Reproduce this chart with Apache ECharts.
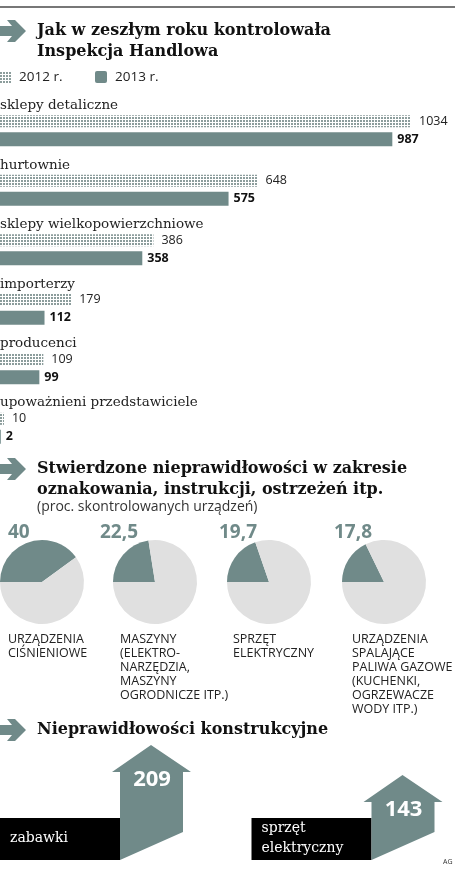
<!DOCTYPE html>
<html><head><meta charset="utf-8">
<script src="https://cdn.jsdelivr.net/npm/echarts@6/dist/echarts.min.js"></script>
<style>html,body{margin:0;padding:0;background:#fff}#c{width:458px;height:876px}</style>
</head><body><div id="c"></div>
<script>
var categories = ['sklepy detaliczne','hurtownie','sklepy wielkopowierzchniowe','importerzy','producenci','upoważnieni przedstawiciele'];
var values2012 = [1034, 648, 386, 179, 109, 10];
var values2013 = [987, 575, 358, 112, 99, 2];
var pieNames = ['URZĄDZENIA\nCIŚNIENIOWE','MASZYNY\n(ELEKTRO-\nNARZĘDZIA,\nMASZYNY\nOGRODNICZE ITP.)','SPRZĘT\nELEKTRYCZNY','URZĄDZENIA\nSPALAJĄCE\nPALIWA GAZOWE\n(KUCHENKI,\nOGRZEWACZE\nWODY ITP.)'];
var pieValues = [40, 22.5, 19.7, 17.8];
var pieLabels = ['40','22,5','19,7','17,8'];
var constrNames = ['zabawki','sprzęt\nelektryczny'];
var constrValues = [209, 143];

var TEAL = '#708a89', SERIF = 'DejaVu Serif', SANS = 'Open Sans';
var pc = document.createElement('canvas'); pc.width = 3; pc.height = 3;
var px = pc.getContext('2d'); px.fillStyle = '#fff'; px.fillRect(0,0,3,3);
px.fillStyle = '#8c9d9c'; px.fillRect(0,0,2,2);
var pattern = {image: pc, repeat: 'repeat'};

function arrowIcon(cy){
  return {type:'polygon', shape:{points:[[0,cy-5],[12,cy-5],[7,cy-11],[15,cy-11],[26,cy],[15,cy+11],[7,cy+11],[12,cy+5],[0,cy+5]]}, style:{fill:TEAL}};
}
function title(x,y,t){return {type:'text', x:x, y:y, style:{text:t, font:'bold 16px "'+SERIF+'"', fill:'#111', lineHeight:21}};}

var chart = echarts.init(document.getElementById('c'));
var series = [], grids = [], xAxes = [], yAxes = [];

grids.push({left:0, top:101, width:411, height:357});
xAxes.push({gridIndex:0, type:'value', min:0, max:1034, show:false});
yAxes.push({gridIndex:0, type:'category', data:categories, inverse:true, show:false});
series.push({type:'bar', xAxisIndex:0, yAxisIndex:0, data:values2012, barWidth:12, barGap:'40%',
  itemStyle:{color:pattern}, silent:true,
  label:{show:true, position:'right', distance:8, color:'#222', fontFamily:SANS, fontSize:12.5}});
series.push({type:'bar', xAxisIndex:0, yAxisIndex:0, data:values2013, barWidth:14, barGap:'40%',
  itemStyle:{color:TEAL}, silent:true,
  label:{show:true, position:'right', distance:5, color:'#111', fontFamily:SANS, fontWeight:'bold', fontSize:12.5}});

var pieX = [42,155,269,384];
for (var i=0;i<4;i++){
  series.push({type:'pie', center:[pieX[i],582], radius:42, startAngle:180, clockwise:true, silent:true,
    label:{show:false}, labelLine:{show:false},
    data:[{value:pieValues[i], itemStyle:{color:TEAL}},{value:100-pieValues[i], itemStyle:{color:'#e0e0e0'}}]});
}

grids.push({left:151, top:745, width:251.5, height:95});
xAxes.push({gridIndex:1, type:'category', data:constrNames, boundaryGap:false, show:false});
yAxes.push({gridIndex:1, type:'value', min:0, max:209, show:false});
series.push({type:'custom', xAxisIndex:1, yAxisIndex:1, silent:true, data:constrValues.map(function(v,i){return [i,v];}),
  renderItem:function(params, api){
    var top = api.coord([api.value(0), api.value(1)]);
    var base = api.coord([api.value(0), 0]);
    var cx = top[0], ty = top[1], by = base[1]+20;
    var L = cx-31, R = cx+32, hb = ty+27;
    return {type:'group', children:[
      {type:'rect', shape:{x:L-120, y:818, width:120, height:by-818}, style:{fill:'#000'}},
      {type:'polygon', shape:{points:[[L,hb],[cx-39,hb],[cx,ty],[cx+40,hb],[R,hb],[R,by-28],[L,by]]}, style:{fill:TEAL}},
      {type:'text', x:cx+1, y:hb+8, style:{text:String(constrValues[params.dataIndex]), font:'bold 22px "'+SANS+'"', fill:'#fff', align:'center', verticalAlign:'middle'}},
      {type:'text', x:L-110, y:838, style:{text:constrNames[params.dataIndex], font:'14px "'+SERIF+'"', fill:'#fff', verticalAlign:'middle', lineHeight:20}}
    ]};
  }});

var graphics = [
  {type:'line', shape:{x1:0,y1:7,x2:455,y2:7}, style:{stroke:'#777', lineWidth:2}},
  arrowIcon(31), title(37,20,'Jak w zeszłym roku kontrolowała\nInspekcja Handlowa'),
  {type:'rect', shape:{x:0,y:71,width:11,height:12}, style:{fill:pattern}},
  {type:'text', x:19, y:77, style:{text:'2012 r.', font:'13.5px "'+SANS+'"', fill:'#222', verticalAlign:'middle'}},
  {type:'rect', shape:{x:95,y:71,width:12,height:12,r:2}, style:{fill:TEAL}},
  {type:'text', x:115, y:77, style:{text:'2013 r.', font:'13.5px "'+SANS+'"', fill:'#222', verticalAlign:'middle'}},
  arrowIcon(469), title(37,458,'Stwierdzone nieprawidłowości w zakresie\noznakowania, instrukcji, ostrzeżeń itp.'),
  {type:'text', x:37, y:507, style:{text:'(proc. skontrolowanych urządzeń)', font:'14px "'+SANS+'"', fill:'#333', verticalAlign:'middle'}},
  arrowIcon(730), title(37,719,'Nieprawidłowości konstrukcyjne'),
  {type:'text', x:443, y:858, style:{text:'AG', font:'7px "'+SANS+'"', fill:'#333'}}
];
var catY = [105,165,224,284,343,402];
categories.forEach(function(c,i){
  graphics.push({type:'text', x:0, y:catY[i], style:{text:c, font:'13.5px "'+SERIF+'"', fill:'#222', verticalAlign:'middle'}});
});
var plx = [8,100,219,334], nlx = [8,120,233,352];
for (var j=0;j<4;j++){
  graphics.push({type:'text', x:plx[j], y:533, style:{text:pieLabels[j], font:'bold 19px "'+SANS+'"', fill:TEAL, verticalAlign:'middle'}});
  graphics.push({type:'text', x:nlx[j], y:632, style:{text:pieNames[j], font:'12.5px "'+SANS+'"', fill:'#222', lineHeight:14}});
}

chart.setOption({animation:false, grid:grids, xAxis:xAxes, yAxis:yAxes, series:series, graphic:graphics});
</script></body></html>
